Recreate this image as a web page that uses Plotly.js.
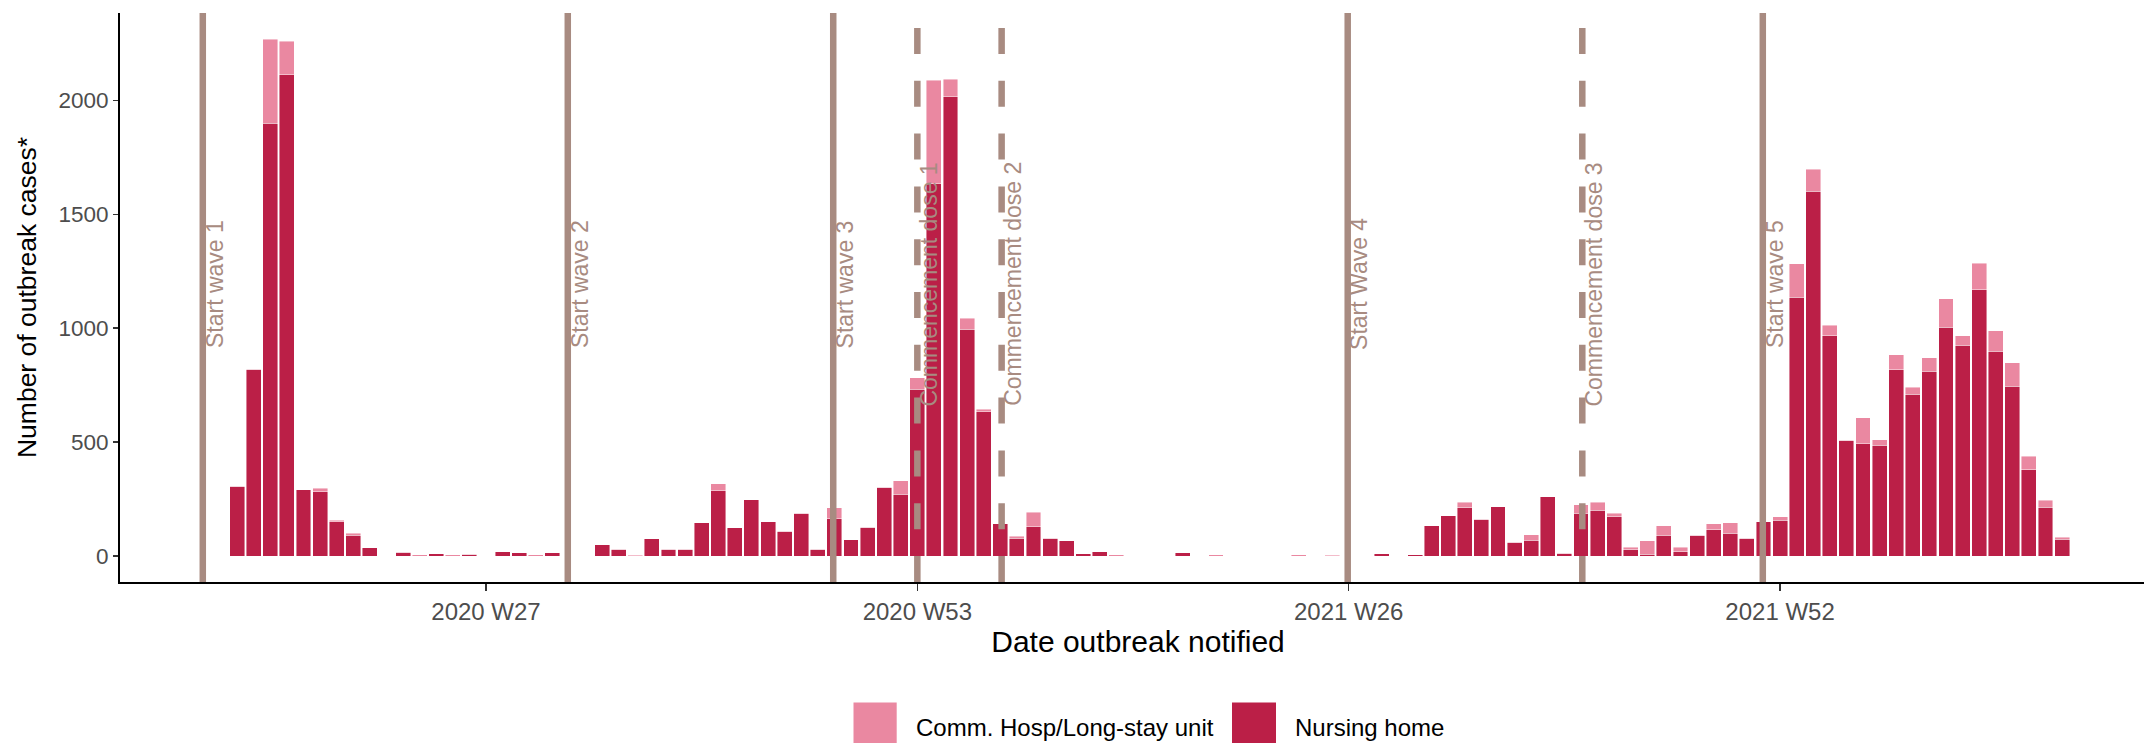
<!DOCTYPE html>
<html>
<head>
<meta charset="utf-8">
<script src="https://cdn.plot.ly/plotly-3.0.1.min.js"></script>
<style>
html, body { margin: 0; padding: 0; overflow: hidden; background: #fff; }
#chart { width: 2170px; height: 743px; }
</style>
</head>
<body>
<div id="chart"></div>
<script>
// ---- Data ----
const weeks2020 = [12,13,14,15,16,17,18,19,20,21,22,23,24,25,26,27,28,29,30,31,32,33,34,35,36,37,38,39,40,41,42,43,44,45,46,47,48,49,50,51,52,53];
const weeks2021 = [1,2,3,4,5,6,7,8,9,10,11,12,13,14,15,16,17,18,19,20,21,22,23,24,25,26,27,28,29,30,31,32,33,34,35,36,37,38,39,40,41,42,43,44,45,46,47,48,49,50,51,52];
const weeks2022 = [1,2,3,4,5,6,7,8,9,10,11,12,13,14,15,16,17];

const nursingHome2020 = [306,819,1900,2113,291,282,151,92,37,0,16,0,11,0,8,0,19,14,0,14,0,0,50,29,0,76,29,29,146,286,124,247,150,109,188,29,163,72,126,301,271,731];
const commHosp2020    = [0,0,368,146,0,15,5,7,0,0,0,6,0,5,0,0,0,0,5,0,0,0,0,0,4,0,0,0,0,32,0,0,0,0,0,0,50,0,0,0,60,51];

const nursingHome2021 = [1634,2015,995,634,141,79,128,79,67,10,19,0,0,0,0,14,0,0,0,0,0,0,0,0,0,0,0,10,0,5,133,176,212,161,217,61,69,261,13,187,200,173,27,8,91,18,91,116,99,77,151,158];
const commHosp2021    = [454,78,49,11,0,8,64,0,0,0,0,5,0,0,0,0,0,6,0,0,0,0,5,0,3,0,0,0,0,0,0,0,23,0,0,0,25,0,0,37,35,14,12,59,42,21,0,25,46,0,0,15];

const nursingHome2022 = [1136,1602,967,509,493,487,817,711,810,1005,925,1169,899,745,378,215,74];
const commHosp2022    = [147,96,47,0,114,24,66,30,61,125,42,117,89,104,59,30,8];

const tickLabels = ["2020 W27", "2020 W53", "2021 W26", "2021 W52"];
const yTicks = [0, 500, 1000, 1500, 2000];

const eventLabels = ["Start wave 1","Start wave 2","Start wave 3","Commencement dose 1","Commencement dose 2","Start Wave 4","Commencement dose 3","Start wave 5"];
const eventWeeks  = ["2020 W9.93","2020 W31.93","2020 W47.93","2020 W53","2021 W5.08","2021 W25.94","2021 W40.08","2021 W50.96"];
const eventDashed = [false,false,false,true,true,false,true,false];

const seriesNames = ["Comm. Hosp/Long-stay unit", "Nursing home"];

// ---- Helpers ----
function weekPos(label) {
  const m = label.match(/(\d{4}) W([\d.]+)/);
  const y = +m[1], w = +m[2];
  if (y === 2020) return w;
  if (y === 2021) return 53 + w;
  return 105 + w;
}
const xs = []
  .concat(weeks2020.map(w => weekPos("2020 W" + w)))
  .concat(weeks2021.map(w => weekPos("2021 W" + w)))
  .concat(weeks2022.map(w => weekPos("2022 W" + w)));
const nh = nursingHome2020.concat(nursingHome2021, nursingHome2022);
const ch = commHosp2020.concat(commHosp2021, commHosp2022);

const DARK = "#BB1F47";
const LIGHT = "#EA88A1";
const EVT = "#A88B81";
const FONT = "Liberation Sans, Arial, sans-serif";

// plot area in px (for legend placement)
const L = 120, T = 13.4, B = 581.6, W = 2170, R = 14;
const PW = W - L - R, PH = B - T;
const px = v => (v - L) / PW;
const py = v => (B - v) / PH;

const traces = [
  { type: "bar", x: xs, y: nh, name: seriesNames[1], width: 0.9,
    marker: { color: DARK, line: { color: "rgba(255,255,255,0.55)", width: 0.8 } },
    showlegend: false, hoverinfo: "x+y+name" },
  { type: "bar", x: xs, y: ch, name: seriesNames[0], width: 0.9,
    marker: { color: LIGHT, line: { color: "rgba(255,255,255,0.55)", width: 0.8 } },
    showlegend: false, hoverinfo: "x+y+name" }
];

const shapes = [];
const annotations = [];
eventLabels.forEach((lab, i) => {
  const xv = weekPos(eventWeeks[i]);
  shapes.push({ type: "line", xref: "x", yref: "paper", x0: xv, x1: xv, y0: 0, y1: 1,
    line: { color: EVT, width: 6.5, dash: eventDashed[i] ? "26px,26.8px" : "solid" }, layer: "above" });
  annotations.push({ x: xv, y: 1193, xref: "x", yref: "y", text: lab, textangle: -90,
    showarrow: false, xanchor: "center", yanchor: "middle", xshift: 12,
    font: { family: FONT, size: 23, color: EVT } });
});

// legend (custom, ggplot-like large keys)
const legendItems = [
  { name: seriesNames[0], color: LIGHT, k0: 853.5, k1: 896.7, t: 914 },
  { name: seriesNames[1], color: DARK, k0: 1232, k1: 1276, t: 1293 }
];
legendItems.forEach(it => {
  shapes.push({ type: "rect", xref: "paper", yref: "paper", x0: px(it.k0), x1: px(it.k1), y0: py(702), y1: py(745),
    fillcolor: it.color, line: { width: 0 } });
  annotations.push({ xref: "paper", yref: "paper", x: px(it.t), y: py(726.5), xanchor: "left", yanchor: "middle",
    text: it.name, showarrow: false, font: { family: FONT, size: 24, color: "#000" } });
});

const layout = {
  width: W, height: 743,
  margin: { l: L, r: R, t: T, b: 743 - B },
  paper_bgcolor: "#fff", plot_bgcolor: "#fff",
  barmode: "stack", bargap: 0,
  font: { family: FONT },
  showlegend: false,
  xaxis: {
    range: [4.94, 127.66], tickvals: tickLabels.map(weekPos), ticktext: tickLabels,
    showline: true, linecolor: "#000", linewidth: 2, mirror: false,
    ticks: "outside", ticklen: 7, tickwidth: 1.5, tickcolor: "#333",
    showgrid: false, zeroline: false,
    tickfont: { family: FONT, size: 24, color: "#4D4D4D" },
    title: { text: "Date outbreak notified", font: { family: FONT, size: 30, color: "#000" }, standoff: 7 }
  },
  yaxis: {
    range: [-114, 2383.5], tickvals: yTicks,
    showline: true, linecolor: "#000", linewidth: 2,
    ticks: "outside", ticklen: 5, tickwidth: 1.5, tickcolor: "#333",
    showgrid: false, zeroline: false,
    tickfont: { family: FONT, size: 22.5, color: "#4D4D4D" },
    title: { text: "Number of outbreak cases*", font: { family: FONT, size: 26.5, color: "#000" }, standoff: 14 }
  },
  shapes: shapes,
  annotations: annotations
};

Plotly.newPlot("chart", traces, layout, { displayModeBar: false, staticPlot: true });
</script>
</body>
</html>
